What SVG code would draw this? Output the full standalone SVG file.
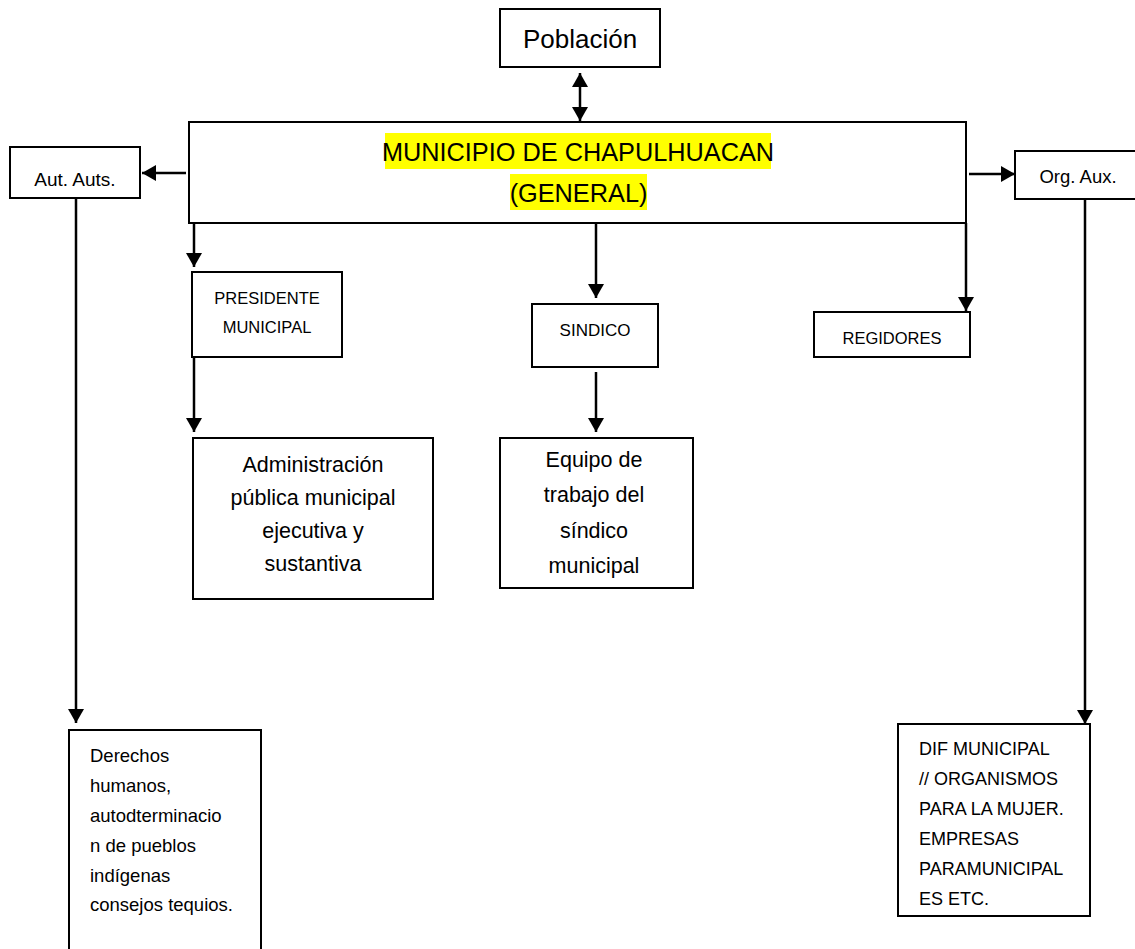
<svg xmlns="http://www.w3.org/2000/svg" width="1135" height="949" viewBox="0 0 1135 949">
<defs>
<style>
.box{fill:#fff;stroke:#000;stroke-width:2}
.t{font-family:"Liberation Sans",Arial,sans-serif;fill:#000}
.c{text-anchor:middle}
.conn line{stroke:#000;stroke-width:2.5;fill:none}
.hl{fill:#FFFF00}
</style>
<marker id="ah" viewBox="0 0 14 16" refX="14" refY="8" markerWidth="14" markerHeight="16" markerUnits="userSpaceOnUse" orient="auto-start-reverse">
<path d="M0,0 L14,8 L0,16 z" fill="#000"/>
</marker>
</defs>
<rect width="1135" height="949" fill="#fff"/>

<g id="poblacion">
<rect class="box" x="500" y="9" width="160" height="58"/>
<text class="t c" x="580" y="48" font-size="26">Población</text>
</g>

<g id="municipio">
<rect class="box" x="189" y="122" width="777" height="101"/>
<rect class="hl" x="385" y="133" width="386" height="36"/>
<rect class="hl" x="510" y="174" width="137" height="36"/>
<text class="t c" x="578" y="161" font-size="25.3">MUNICIPIO DE CHAPULHUACAN</text>
<text class="t c" x="578.5" y="202" font-size="25.3">(GENERAL)</text>
</g>

<g id="aut-auts">
<rect class="box" x="10" y="147" width="130" height="51"/>
<text class="t c" x="75" y="186" font-size="19">Aut. Auts.</text>
</g>

<g id="org-aux">
<rect class="box" x="1015" y="151" width="130" height="48"/>
<text class="t c" x="1078" y="183" font-size="18.5">Org. Aux.</text>
</g>

<g id="presidente">
<rect class="box" x="192" y="272" width="150" height="85"/>
<text class="t c" x="267" y="304" font-size="16.5">PRESIDENTE</text>
<text class="t c" x="267" y="333" font-size="16.5">MUNICIPAL</text>
</g>

<g id="sindico">
<rect class="box" x="532" y="304" width="126" height="63"/>
<text class="t c" x="595" y="336" font-size="17">SINDICO</text>
</g>

<g id="regidores">
<rect class="box" x="814" y="312" width="156" height="45"/>
<text class="t c" x="892" y="344" font-size="16.5">REGIDORES</text>
</g>

<g id="administracion">
<rect class="box" x="193" y="438" width="240" height="161"/>
<text class="t c" x="313" y="472" font-size="21.5">Administración</text>
<text class="t c" x="313" y="505" font-size="21.5">pública municipal</text>
<text class="t c" x="313" y="538" font-size="21.5">ejecutiva y</text>
<text class="t c" x="313" y="571" font-size="21.5">sustantiva</text>
</g>

<g id="equipo">
<rect class="box" x="500" y="438" width="193" height="150"/>
<text class="t c" x="594" y="467" font-size="21.5">Equipo de</text>
<text class="t c" x="594" y="502" font-size="21.5">trabajo del</text>
<text class="t c" x="594" y="538" font-size="21.5">síndico</text>
<text class="t c" x="594" y="573" font-size="21.5">municipal</text>
</g>

<g id="derechos">
<rect class="box" x="69" y="730" width="192" height="240"/>
<text class="t" x="90" y="762" font-size="18.5">Derechos</text>
<text class="t" x="90" y="792" font-size="18.5">humanos,</text>
<text class="t" x="90" y="822" font-size="18.5">autodterminacio</text>
<text class="t" x="90" y="852" font-size="18.5">n de pueblos</text>
<text class="t" x="90" y="882" font-size="18.5">indígenas</text>
<text class="t" x="90" y="911" font-size="18.5">consejos tequios.</text>
</g>

<g id="dif">
<rect class="box" x="898" y="724" width="192" height="192"/>
<text class="t" x="919" y="755" font-size="18">DIF MUNICIPAL</text>
<text class="t" x="919" y="785" font-size="18">// ORGANISMOS</text>
<text class="t" x="919" y="815" font-size="18">PARA LA MUJER.</text>
<text class="t" x="919" y="845" font-size="18">EMPRESAS</text>
<text class="t" x="919" y="875" font-size="18">PARAMUNICIPAL</text>
<text class="t" x="919" y="905" font-size="18">ES ETC.</text>
</g>

<g id="connectors" class="conn">
<line x1="580" y1="73" x2="580" y2="121" marker-start="url(#ah)" marker-end="url(#ah)"/>
<line x1="186" y1="173" x2="142" y2="173" marker-end="url(#ah)"/>
<line x1="969" y1="174" x2="1015" y2="174" marker-end="url(#ah)"/>
<line x1="194" y1="223" x2="194" y2="267" marker-end="url(#ah)"/>
<line x1="596" y1="223" x2="596" y2="298" marker-end="url(#ah)"/>
<line x1="966" y1="223" x2="966" y2="311" marker-end="url(#ah)"/>
<line x1="194" y1="357" x2="194" y2="432" marker-end="url(#ah)"/>
<line x1="596" y1="372" x2="596" y2="432" marker-end="url(#ah)"/>
<line x1="76" y1="198" x2="76" y2="723" marker-end="url(#ah)"/>
<line x1="1085" y1="199" x2="1085" y2="724" marker-end="url(#ah)"/>
</g>
</svg>
